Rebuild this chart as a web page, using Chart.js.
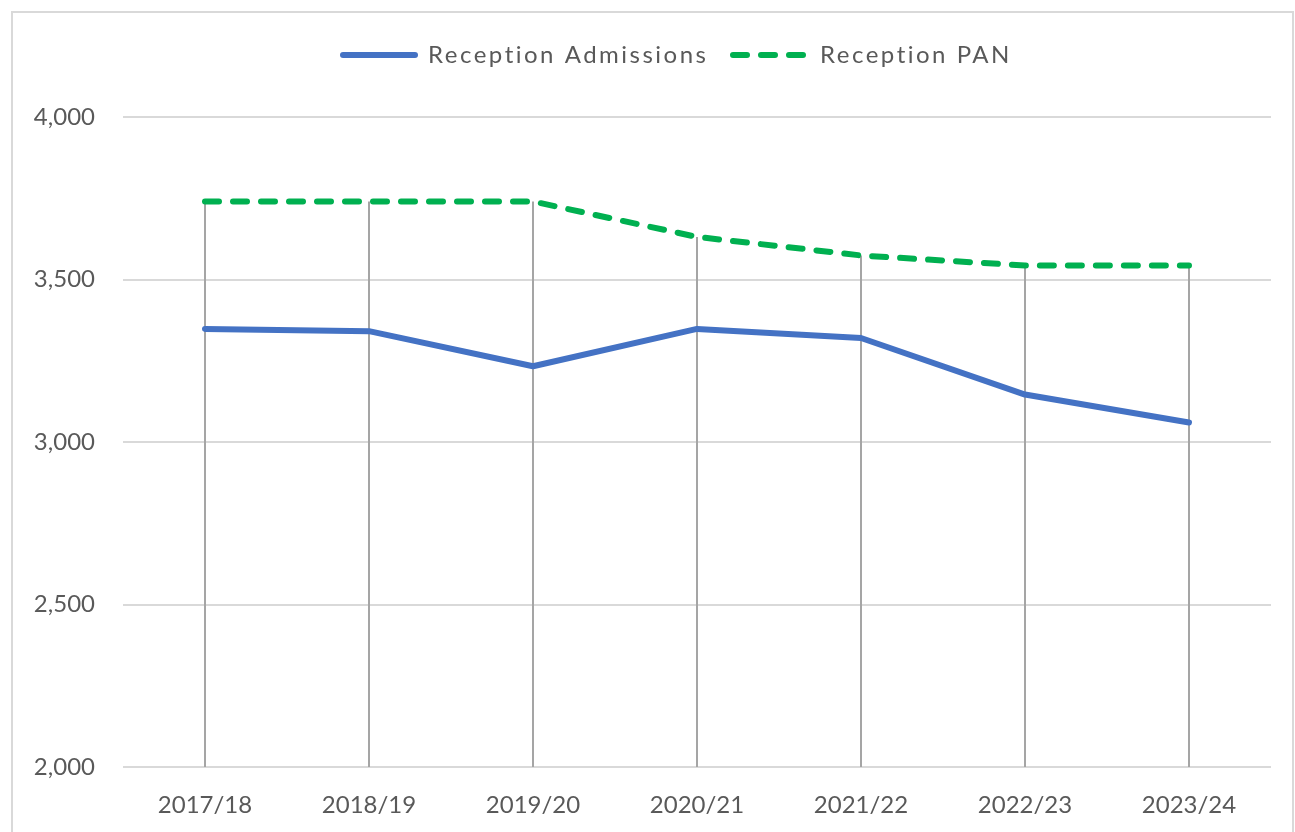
<!DOCTYPE html>
<html>
<head>
<meta charset="utf-8">
<script src="https://cdn.jsdelivr.net/npm/chart.js@4/dist/chart.umd.min.js"></script>
<style>
  html, body { margin: 0; padding: 0; background: #fff; }
  #wrap { width: 1295px; height: 832px; position: relative; }
</style>
</head>
<body>
<div id="wrap"><canvas id="c"></canvas></div>
<script>
const categories = ['2017/18', '2018/19', '2019/20', '2020/21', '2021/22', '2022/23', '2023/24'];
const admissions = [3348, 3341, 3233, 3348, 3320, 3146, 3060];
const pan = [3740, 3740, 3740, 3631, 3574, 3543, 3543];
const seriesNames = ['Reception Admissions', 'Reception PAN'];
const yTicks = [2000, 2500, 3000, 3500, 4000];

const FONT = 'Lato, "Open Sans", sans-serif';
const TEXT = '#595959';

const framePlugin = {
  id: 'frame',
  beforeDraw(chart) {
    const ctx = chart.ctx;
    ctx.save();
    ctx.fillStyle = '#fff';
    ctx.fillRect(0, 0, chart.width, chart.height);
    ctx.strokeStyle = '#D9D9D9';
    ctx.lineWidth = 2;
    ctx.strokeRect(12, 12, 1281, 840);
    ctx.restore();
  }
};

const dropLines = {
  id: 'dropLines',
  beforeDatasetsDraw(chart) {
    const ctx = chart.ctx;
    const xs = chart.scales.x, ys = chart.scales.y;
    ctx.save();
    ctx.strokeStyle = '#A5A5A5';
    ctx.lineWidth = 2;
    categories.forEach((c, i) => {
      const top = Math.max(admissions[i], pan[i]);
      const x = xs.getPixelForValue(i);
      ctx.beginPath();
      ctx.moveTo(x, ys.getPixelForValue(top));
      ctx.lineTo(x, chart.chartArea.bottom);
      ctx.stroke();
    });
    ctx.restore();
  }
};

const legendPlugin = {
  id: 'customLegend',
  afterDraw(chart) {
    const ctx = chart.ctx;
    ctx.save();
    ctx.font = '24px ' + FONT;
    ctx.fillStyle = TEXT;
    ctx.textBaseline = 'middle';
    ctx.letterSpacing = '2.5px';
    const y = 55;
    const ds = chart.data.datasets;
    ctx.lineCap = 'round';
    ctx.lineWidth = 6;
    ctx.strokeStyle = ds[0].borderColor;
    ctx.setLineDash([]);
    ctx.beginPath(); ctx.moveTo(343, y); ctx.lineTo(415, y); ctx.stroke();
    ctx.fillText(ds[0].label, 428, y);
    ctx.strokeStyle = ds[1].borderColor;
    ctx.setLineDash([14, 14]);
    ctx.beginPath(); ctx.moveTo(733, y); ctx.lineTo(804, y); ctx.stroke();
    ctx.setLineDash([]);
    ctx.fillText(ds[1].label, 820, y);
    ctx.restore();
  }
};

new Chart(document.getElementById('c'), {
  type: 'line',
  data: {
    labels: categories,
    datasets: [
      {
        label: seriesNames[0],
        data: admissions,
        borderColor: '#4472C4',
        backgroundColor: '#4472C4',
        borderWidth: 6,
        borderCapStyle: 'round',
        borderJoinStyle: 'round',
        pointRadius: 0,
        tension: 0
      },
      {
        label: seriesNames[1],
        data: pan,
        borderColor: '#00B050',
        backgroundColor: '#00B050',
        borderWidth: 6,
        borderDash: [14, 14],
        borderCapStyle: 'round',
        borderJoinStyle: 'round',
        pointRadius: 0,
        tension: 0
      }
    ]
  },
  options: {
    responsive: true,
    maintainAspectRatio: false,
    animation: false,
    devicePixelRatio: 1,
    layout: { padding: { top: 117, right: 24, left: 0, bottom: 0 } },
    plugins: {
      legend: { display: false },
      tooltip: { enabled: false }
    },
    scales: {
      x: {
        offset: true,
        grid: { display: false, drawTicks: false },
        border: { display: false },
        ticks: { color: TEXT, font: { family: FONT, size: 24 }, padding: 24, maxRotation: 0 },
        afterFit(s) { s.height = 65; }
      },
      y: {
        min: 2000,
        max: 4000,
        afterBuildTicks(s) { s.ticks = yTicks.map(v => ({ value: v })); },
        grid: { color: '#D9D9D9', lineWidth: 2, drawTicks: false },
        border: { display: false },
        ticks: {
          color: TEXT,
          font: { family: FONT, size: 24 },
          padding: 28,
          callback: v => v.toLocaleString('en-US')
        },
        afterFit(s) { s.width = 123; }
      }
    }
  },
  plugins: [framePlugin, dropLines, legendPlugin]
});
</script>
</body>
</html>
